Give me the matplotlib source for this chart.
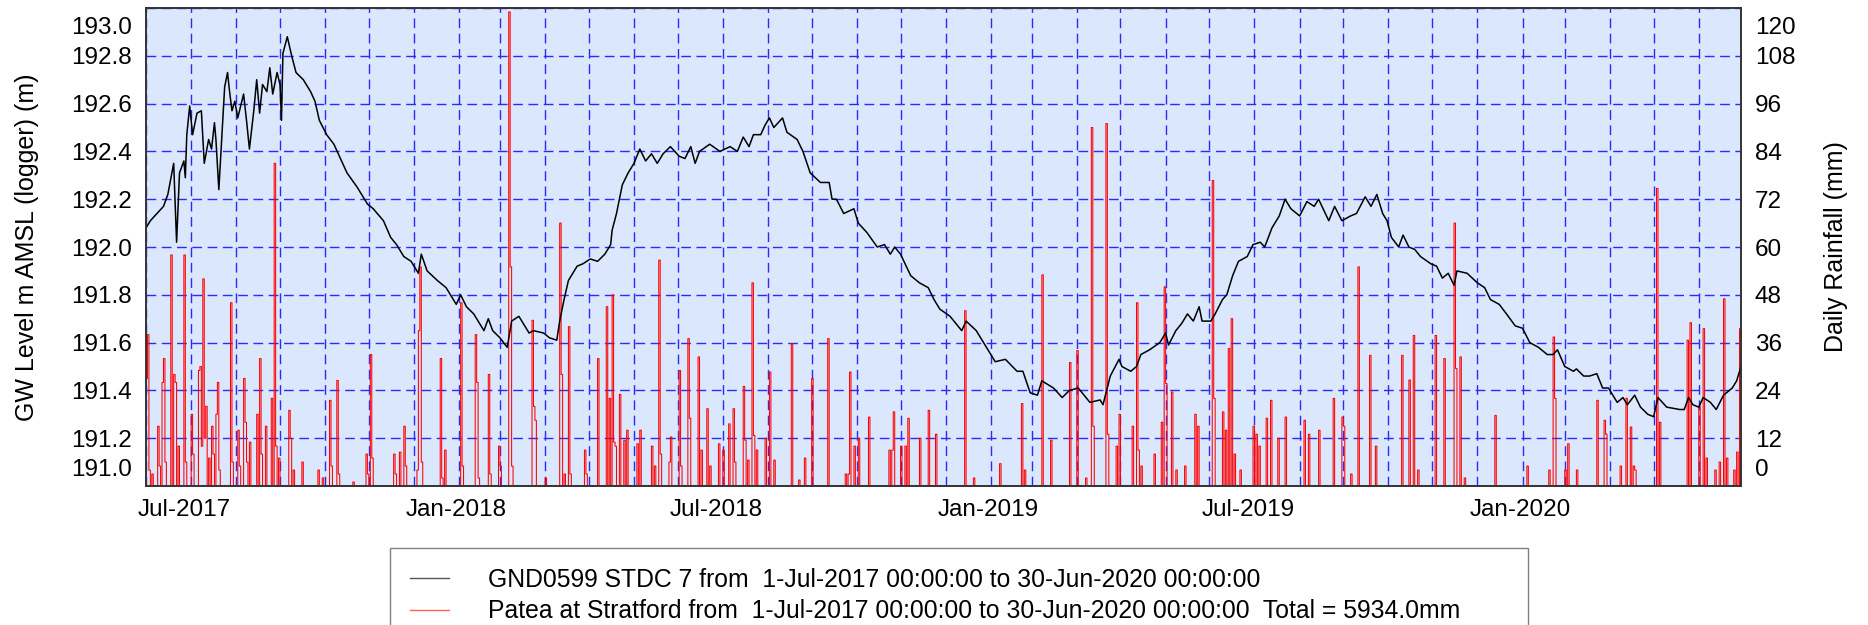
import datetime as dt
import matplotlib
matplotlib.use("Agg")
import matplotlib.pyplot as plt
import matplotlib.dates as mdates
import matplotlib.transforms as mtransforms
import numpy as np

plt.rcParams['font.family'] = ['Liberation Sans', 'DejaVu Sans']

# record period, day numbers below count from the start
start = dt.datetime(2017, 7, 1)
end = dt.datetime(2020, 6, 30)

# GND0599 logger level (m AMSL)
gw_day = [0, 3, 12, 15, 19, 21, 23, 26, 27, 28, 30, 32, 35, 38, 40, 43, 45, 47, 48, 50,
          54, 56, 57, 59, 61, 63, 67, 69, 71, 74, 76, 78, 80, 83, 85, 87, 90, 92, 93, 94,
          97, 100, 103, 108, 113, 116, 119, 124, 129, 132, 138, 145, 152, 156, 163, 168, 172, 177, 182, 187,
          189, 193, 200, 206, 213, 216, 220, 225, 232, 235, 238, 243, 248, 251, 256, 259, 263, 266, 273, 277,
          282, 284, 287, 290, 296, 300, 305, 310, 315, 319, 320, 323, 327, 331, 335, 339, 343, 347, 351, 355,
          360, 366, 370, 374, 377, 380, 387, 394, 401, 406, 410, 414, 417, 422, 425, 428, 431, 437, 440, 447,
          451, 456, 463, 469, 471, 474, 479, 486, 489, 495, 502, 507, 511, 514, 518, 525, 531, 537, 541, 545,
          552, 560, 563, 570, 577, 583, 590, 598, 602, 607, 612, 615, 623, 629, 634, 640, 648, 655, 657, 662,
          668, 670, 676, 680, 683, 689, 696, 700, 702, 707, 711, 715, 719, 723, 725, 731, 734, 739, 742, 746,
          750, 756, 760, 765, 768, 773, 778, 782, 786, 792, 797, 802, 805, 812, 816, 821, 827, 831, 837, 841,
          845, 849, 852, 855, 860, 863, 867, 871, 875, 882, 886, 890, 894, 898, 900, 907, 914, 919, 923, 929,
          934, 940, 945, 950, 956, 962, 966, 969, 974, 980, 982, 987, 991, 996, 1000, 1004, 1010, 1014, 1017, 1022,
          1026, 1031, 1035, 1038, 1044, 1053, 1056, 1059, 1062, 1066, 1069, 1074, 1078, 1083, 1089, 1092, 1095]
gw_level = [192.08, 192.11, 192.17, 192.22, 192.35, 192.02, 192.31, 192.36, 192.29, 192.47,
            192.59, 192.47, 192.56, 192.57, 192.35, 192.45, 192.41, 192.52, 192.45, 192.24,
            192.67, 192.73, 192.67, 192.57, 192.61, 192.54, 192.64, 192.53, 192.41, 192.57,
            192.70, 192.56, 192.68, 192.65, 192.75, 192.64, 192.73, 192.68, 192.53, 192.81,
            192.88, 192.80, 192.73, 192.70, 192.65, 192.61, 192.53, 192.47, 192.43, 192.39,
            192.31, 192.25, 192.18, 192.16, 192.11, 192.04, 192.01, 191.96, 191.94, 191.89,
            191.97, 191.90, 191.86, 191.83, 191.76, 191.80, 191.75, 191.72, 191.65, 191.70,
            191.65, 191.62, 191.58, 191.69, 191.71, 191.68, 191.64, 191.65, 191.64, 191.62,
            191.61, 191.69, 191.78, 191.86, 191.92, 191.93, 191.95, 191.94, 191.97, 192.01,
            192.07, 192.14, 192.26, 192.31, 192.35, 192.41, 192.36, 192.39, 192.35, 192.39,
            192.42, 192.38, 192.37, 192.42, 192.35, 192.40, 192.43, 192.40, 192.42, 192.40,
            192.46, 192.42, 192.47, 192.47, 192.51, 192.54, 192.50, 192.54, 192.48, 192.45,
            192.40, 192.31, 192.27, 192.27, 192.20, 192.20, 192.14, 192.16, 192.10, 192.06,
            192.00, 192.01, 191.97, 192.00, 191.97, 191.88, 191.85, 191.83, 191.78, 191.74,
            191.71, 191.65, 191.69, 191.65, 191.58, 191.52, 191.53, 191.48, 191.48, 191.39,
            191.38, 191.44, 191.41, 191.37, 191.40, 191.41, 191.35, 191.36, 191.34, 191.46,
            191.53, 191.50, 191.48, 191.50, 191.55, 191.57, 191.60, 191.64, 191.59, 191.65,
            191.68, 191.72, 191.69, 191.75, 191.69, 191.69, 191.72, 191.78, 191.80, 191.88,
            191.94, 191.96, 192.01, 192.02, 192.00, 192.08, 192.13, 192.20, 192.16, 192.13,
            192.19, 192.17, 192.20, 192.11, 192.17, 192.11, 192.13, 192.14, 192.21, 192.17,
            192.22, 192.14, 192.11, 192.04, 192.00, 192.05, 192.00, 191.99, 191.96, 191.93,
            191.92, 191.87, 191.89, 191.84, 191.90, 191.89, 191.85, 191.83, 191.78, 191.76,
            191.72, 191.67, 191.66, 191.60, 191.58, 191.55, 191.55, 191.57, 191.50, 191.48,
            191.49, 191.46, 191.46, 191.47, 191.41, 191.41, 191.35, 191.37, 191.34, 191.38,
            191.33, 191.30, 191.29, 191.37, 191.33, 191.32, 191.32, 191.37, 191.34, 191.33,
            191.37, 191.35, 191.32, 191.38, 191.41, 191.44, 191.50]

# Patea at Stratford daily rainfall (mm), only the days with rain
rain_day = [0, 1, 2, 4, 8, 9, 11, 12, 13, 17, 19, 20, 22, 26, 27, 31, 32, 36, 37, 38,
            39, 40, 41, 43, 45, 46, 48, 49, 50, 58, 59, 63, 64, 67, 68, 69, 71, 76, 78, 79,
            82, 86, 88, 89, 91, 98, 99, 101, 107, 118, 121, 126, 127, 131, 132, 142, 151, 152, 154, 155,
            170, 171, 174, 177, 178, 186, 187, 188, 189, 202, 203, 205, 216, 217, 226, 227, 228, 235, 236, 242,
            243, 249, 250, 251, 265, 266, 267, 274, 284, 285, 287, 290, 291, 301, 302, 310, 316, 318, 320, 321,
            322, 325, 328, 330, 337, 339, 347, 349, 352, 353, 359, 360, 366, 367, 372, 373, 379, 381, 385, 387,
            393, 396, 400, 403, 404, 410, 411, 413, 416, 417, 419, 425, 428, 431, 443, 448, 452, 457, 468, 480,
            482, 483, 486, 489, 496, 510, 512, 513, 518, 521, 523, 531, 537, 542, 562, 568, 586, 601, 603, 615,
            621, 634, 639, 645, 649, 650, 659, 660, 666, 668, 677, 680, 681, 683, 692, 697, 699, 700, 704, 707,
            713, 720, 722, 732, 733, 739, 741, 743, 745, 747, 751, 760, 762, 764, 769, 772, 777, 782, 795, 798,
            805, 815, 821, 822, 827, 832, 840, 844, 862, 867, 870, 873, 885, 891, 898, 899, 902, 905, 926, 948,
            963, 966, 967, 974, 976, 982, 996, 1001, 1002, 1012, 1016, 1019, 1021, 1022, 1037, 1039, 1058, 1060, 1066, 1069,
            1071, 1077, 1080, 1083, 1085, 1090, 1092, 1094]
rain_mm = [27, 38, 4, 3, 15, 5, 26, 32, 6, 58, 28, 26, 10, 58, 6, 18, 8, 29, 30, 10,
           52, 12, 20, 7, 15, 8, 18, 26, 4, 46, 6, 14, 5, 27, 16, 6, 11, 18, 32, 8,
           15, 22, 81, 10, 7, 19, 12, 4, 6, 4, 2, 21.5, 5, 26.5, 3, 1, 8, 3, 33, 7,
           8, 3, 8.5, 15, 5, 4, 39, 55, 6, 32, 2, 9, 46, 5, 38, 26, 2, 28, 3, 10,
           5, 119, 55, 5, 41.6, 20, 16.5, 2, 66, 28, 3, 40, 3, 9, 3, 32, 45, 22, 48, 11,
           10, 23, 11.5, 14, 10.6, 14, 10, 5, 56.7, 8, 6, 12.3, 29, 5, 37, 17, 32.4, 9, 19.4, 5,
           10.6, 9, 15.6, 19.4, 6, 25, 11.5, 6.5, 51, 12.7, 9, 12, 28.6, 6.5, 35.7, 1.5, 7, 27, 37, 3,
           3, 28.6, 10, 12, 17.3, 9, 9, 18.6, 10, 10, 17, 12, 19, 13, 44, 2, 5.6, 20.7, 4, 53,
           11.5, 31, 34, 2, 90, 15, 91, 13, 10, 18, 15, 46, 9, 5, 8, 16, 50, 25.7, 23.6, 4,
           5, 18, 15, 76.7, 22, 18.6, 14, 34.5, 42, 8, 4, 15, 13, 10, 17, 21.5, 12, 17.3, 16.5, 13,
           14, 22, 17.3, 15, 3, 55, 32.8, 10, 32.8, 26.6, 37.8, 4, 37.8, 32, 66, 29.5, 32.4, 2, 17.7, 5,
           4, 37.4, 22, 4, 10.6, 4, 21.5, 16.5, 13, 5, 22, 14.8, 5, 4, 74.7, 16, 36.6, 41, 20, 39.5,
           7, 4, 6, 47, 7, 4, 8.5, 39.5]

x_tick_labels = ["Jul-2017", "Jan-2018", "Jul-2018", "Jan-2019", "Jul-2019", "Jan-2020"]
gw_ticks = [191.0, 191.2, 191.4, 191.6, 191.8, 192.0, 192.2, 192.4, 192.6, 192.8, 193.0]
rain_ticks = [0, 12, 24, 36, 48, 60, 72, 84, 96, 108, 120]

legend_gw = "GND0599 STDC 7 from  1-Jul-2017 00:00:00 to 30-Jun-2020 00:00:00"
legend_rain = "Patea at Stratford from  1-Jul-2017 00:00:00 to 30-Jun-2020 00:00:00  Total = 5934.0mm"

# daily series for the step trace
n_days = (end - start).days + 1
rain = np.zeros(n_days)
rain[rain_day] = rain_mm
rain_dates = [start + dt.timedelta(days=i) for i in range(n_days)]
gw_dates = [start + dt.timedelta(days=d) for d in gw_day]
x_tick_dates = [dt.datetime.strptime(s, "%b-%Y") for s in x_tick_labels]

fig = plt.figure(figsize=(18.68, 6.25), dpi=100)
# rain axis underneath (carries background + grid), level axis on top
ax = fig.add_axes([146 / 1868, 1 - 486 / 625, 1595 / 1868, 478 / 625])
ax_gw = ax.twinx()
ax.yaxis.tick_right()
ax.yaxis.set_label_position('right')
ax_gw.yaxis.tick_left()
ax_gw.yaxis.set_label_position('left')

ax.set_facecolor('#dae7fc')
line_rain, = ax.step(rain_dates, rain, where='post', color='#ff0000', lw=0.75)
line_gw, = ax_gw.plot(gw_dates, gw_level, color='#000000', lw=1.1)

ax.set_xlim(start, end)
ax.set_ylim(0, 120)
ax_gw.set_ylim(191.0, 193.0)

ax.set_xticks(mdates.date2num(x_tick_dates))
ax.set_xticklabels(x_tick_labels)
ax.xaxis.set_minor_locator(mdates.MonthLocator())
ax.set_yticks(rain_ticks)
ax.set_yticklabels([str(v) for v in rain_ticks])
ax_gw.set_yticks(gw_ticks)
ax_gw.set_yticklabels(["%.1f" % v for v in gw_ticks])

ax.grid(True, which='both', axis='both', color='#2a2aff', lw=1.0, linestyle=(0, (7, 4)))
ax.tick_params(which='both', length=0)
ax_gw.tick_params(which='both', length=0)
ax.tick_params(axis='x', labelsize=17.5, pad=9)
ax.tick_params(axis='y', labelsize=17.5, pad=10)
ax_gw.tick_params(axis='y', labelsize=17.5, pad=10)

for a in (ax, ax_gw):
    for sp in a.spines.values():
        sp.set_color('#333333')
        sp.set_linewidth(1.2)

# end labels sit inside the axis range
dpi_tr = fig.dpi_scale_trans
for labs in (ax.get_yticklabels(), ax_gw.get_yticklabels()):
    labs[0].set_transform(labs[0].get_transform() + mtransforms.ScaledTranslation(0, 0.18, dpi_tr))
    labs[-1].set_transform(labs[-1].get_transform() + mtransforms.ScaledTranslation(0, -0.17, dpi_tr))
for lab in ax.get_xticklabels():
    lab.set_horizontalalignment('left')
    lab.set_transform(lab.get_transform() + mtransforms.ScaledTranslation(-0.08, 0, dpi_tr))

ax_gw.set_ylabel("GW Level m AMSL (logger) (m)", fontsize=18)
ax_gw.yaxis.set_label_coords(-0.067, 0.5)
ax.set_ylabel("Daily Rainfall (mm)", fontsize=18)
ax.yaxis.set_label_coords(1.052, 0.5)

leg = fig.legend([line_gw, line_rain], [legend_gw, legend_rain],
                 loc='upper left', bbox_to_anchor=(390 / 1868, 0, 1138 / 1868, 1 - 548 / 625),
                 mode='expand', borderaxespad=0, fontsize=17.8, fancybox=False,
                 edgecolor='#808080', framealpha=1, borderpad=0.8, labelspacing=0.3,
                 handlelength=1.6, handletextpad=1.55)
leg.get_frame().set_linewidth(1.0)
leg.get_lines()[0].set_color('#555555')
leg.get_lines()[0].set_linewidth(1.0)
leg.get_lines()[1].set_color('#ff6060')
leg.get_lines()[1].set_linewidth(1.0)

fig.savefig("out.png", dpi=100)
